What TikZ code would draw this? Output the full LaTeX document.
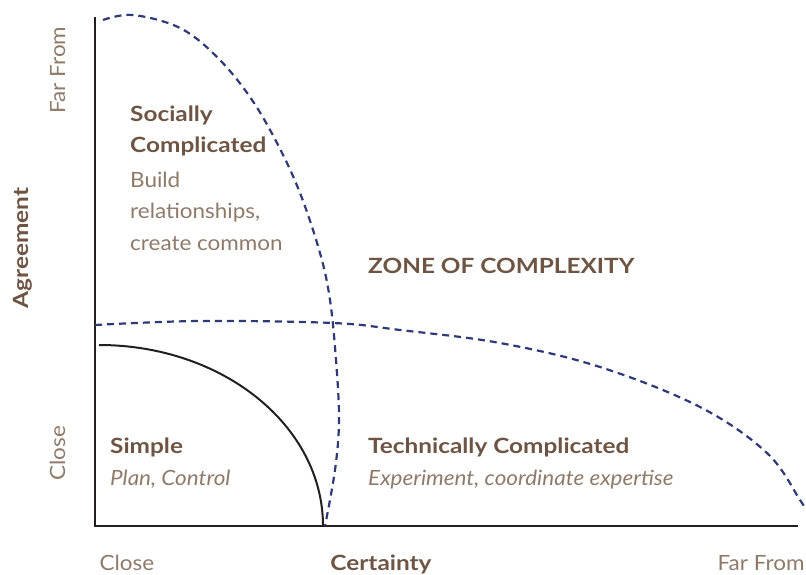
\documentclass[tikz,border=0pt]{standalone}
\usepackage{fontspec}
\setmainfont{Lato}[UprightFeatures={FakeStretch=1.07}, ItalicFeatures={FakeStretch=1.07}, BoldFeatures={FakeStretch=1.16}]
\definecolor{txtdark}{HTML}{6E5543}
\definecolor{txtlight}{HTML}{8F7A6A}
\definecolor{dashblue}{HTML}{2E3A78}
\definecolor{axisc}{HTML}{231F20}
\tikzset{
  lbl/.style={font=\fontsize{21}{25}\selectfont, text=txtlight, inner sep=0pt},
  hd/.style={font=\fontsize{21}{25}\selectfont\bfseries, text=txtdark, inner sep=0pt},
  it/.style={font=\fontsize{21}{25}\selectfont\itshape, text=txtlight, inner sep=0pt},
  axisline/.style={line width=2.5pt, draw=axisc},
  zone/.style={line width=2.2pt, draw=dashblue, dash pattern=on 7pt off 5pt},
  simplearc/.style={line width=2pt, draw=axisc}
}
\begin{document}
\begin{tikzpicture}[x=1pt,y=-1pt]
\useasboundingbox (0,0) rectangle (806,575);
% axes
\coordinate (top) at (95,17);
\coordinate (orig) at (95,526);
\coordinate (right) at (798,526);
\draw[axisline] (top) -- (orig) -- (right);
% simple arc
\coordinate (sa) at (99,345);
\coordinate (sb) at (323,526);
\draw[simplearc] (sa) .. controls (223,345) and (323,426) .. (sb);
% vertical dashed zone
\draw[zone] plot[smooth, tension=0.6] coordinates {(103,20) (133,15) (180,28) (217,57) (250,97) (277,143) (300,193) (320,253) (330,300) (336,360) (339,420) (335,470) (325,526)};
% horizontal dashed zone
\draw[zone] plot[smooth, tension=0.6] coordinates {(95,325) (200,321) (333,323) (400,330) (500,343) (600,367) (700,407) (767,453) (800,500) (806,510)};
% axis labels
\node[lbl, rotate=90, anchor=base] (farA) at (65,70) {Far From};
\node[hd, rotate=90, anchor=base] (agr) at (28,248) {Agreement};
\node[lbl, rotate=90, anchor=base] (closeA) at (65,453) {Close};
\node[lbl, anchor=base] (closeC) at (127,570) {Close};
\node[hd, anchor=base] (cert) at (381,570) {Certainty};
\node[lbl, anchor=base] (farC) at (761,570) {Far From};
% region texts
\node[hd, anchor=base west] (s1) at (130,122) {Socially};
\node[hd, anchor=base west] (s2) at (130,153) {Complicated};
\node[lbl, anchor=base west] (s3) at (130,187) {Build};
\node[lbl, anchor=base west] (s4) at (130,218) {relationships,};
\node[lbl, anchor=base west] (s5) at (130,250) {create common};
\node[hd, anchor=base west] (zone) at (368,273) {ZONE OF COMPLEXITY};
\node[hd, anchor=base west] (simp) at (110,453) {Simple};
\node[it, anchor=base west] (simpd) at (110,485) {Plan, Control};
\node[hd, anchor=base west] (tech) at (368,453) {Technically Complicated};
\node[it, anchor=base west] (techd) at (368,485) {Experiment, coordinate expertise};
\end{tikzpicture}
\end{document}
